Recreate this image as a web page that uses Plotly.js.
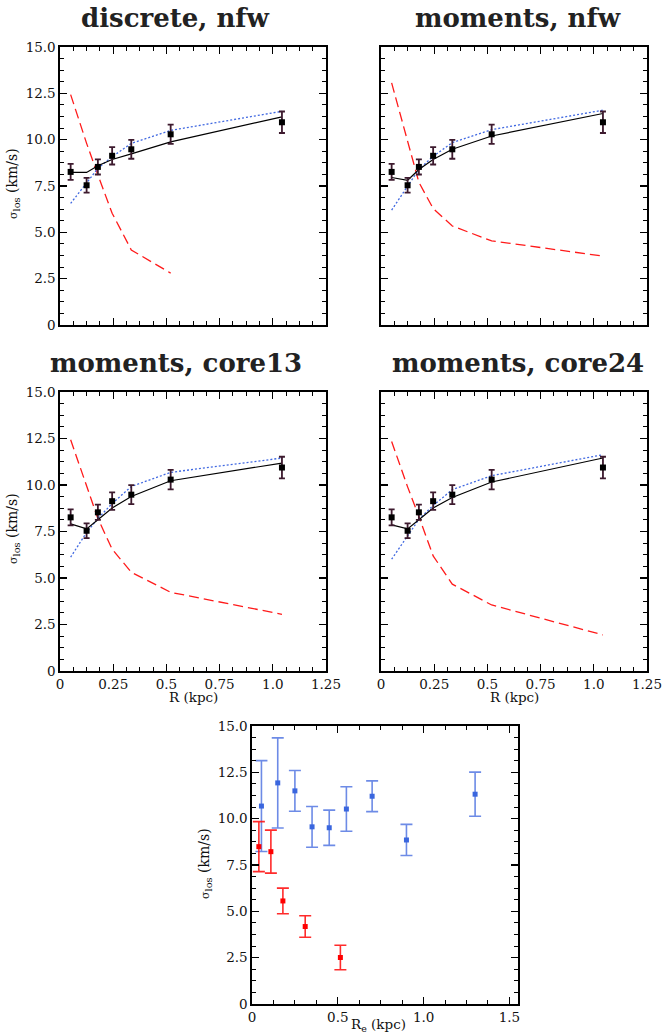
<!DOCTYPE html>
<html>
<head>
<meta charset="utf-8">
<script src="https://cdn.plot.ly/plotly-3.0.1.min.js"></script>
<style>html,body{margin:0;padding:0;background:#fff;}#chart{width:663px;height:1036px;}</style>
</head>
<body>
<div id="chart"></div>
<script>
// ---------- data ----------
const panelTitles = ["discrete, nfw", "moments, nfw", "moments, core13", "moments, core24"];

// observed binned dispersion profile (same in all four panels)
const R = [0.05, 0.125, 0.178, 0.245, 0.335, 0.52, 1.043];
const sigmaObs = [8.26, 7.54, 8.53, 9.13, 9.48, 10.29, 10.94];
const sigmaErr = [0.43, 0.40, 0.41, 0.47, 0.51, 0.52, 0.58];

// model curves (black solid = total, blue dotted, red dashed)
const black1 = [8.23, 8.23, 8.59, 8.93, 9.23, 9.88, 11.23];
const blue1  = [6.56, 7.65, 8.45, 9.08, 9.80, 10.50, 11.53];
const red1   = [12.43, 9.80, 8.10, 6.03, 4.05, 2.80];

const black2 = [7.96, 7.81, 8.39, 8.93, 9.48, 10.20, 11.41];
const blue2  = [6.20, 7.45, 8.40, 9.10, 9.84, 10.54, 11.59];
const red2   = [13.06, 9.98, 7.70, 6.29, 5.34, 4.54, 3.72];

const black3 = [7.91, 7.64, 8.13, 8.76, 9.38, 10.23, 11.18];
const blue3  = [6.12, 7.45, 8.20, 9.00, 9.92, 10.68, 11.45];
const red3   = [12.43, 9.90, 8.20, 6.55, 5.31, 4.23, 3.05];

const black4 = [7.86, 7.64, 8.13, 8.76, 9.33, 10.16, 11.45];
const blue4  = [6.01, 7.30, 8.15, 8.90, 9.75, 10.50, 11.63];
const red4   = [12.34, 9.90, 8.30, 6.19, 4.67, 3.55, 1.94];

// bottom panel: two populations
const blueRe  = [0.055, 0.15, 0.25, 0.35, 0.45, 0.55, 0.70, 0.90, 1.30];
const blueSig = [10.68, 11.93, 11.50, 9.56, 9.51, 10.52, 11.21, 8.85, 11.32];
const blueErr = [2.45, 2.43, 1.10, 1.10, 0.95, 1.20, 0.83, 0.84, 1.19];
const redRe   = [0.04, 0.11, 0.18, 0.31, 0.515];
const redSig  = [8.49, 8.22, 5.56, 4.18, 2.51];
const redErr  = [1.35, 1.16, 0.69, 0.58, 0.66];

// tick labels
const yTickVals = [0, 2.5, 5, 7.5, 10, 12.5, 15];
const yTickText = ["0", "2.5", "5.0", "7.5", "10.0", "12.5", "15.0"];
const xTickVals = [0, 0.25, 0.5, 0.75, 1.0, 1.25];
const xTickText = ["0", "0.25", "0.5", "0.75", "1.0", "1.25"];
const xTickVals5 = [0, 0.5, 1.0, 1.5];
const xTickText5 = ["0", "0.5", "1.0", "1.5"];

// ---------- layout helpers ----------
const W = 663, H = 1036;
const px = v => v / W;
const py = v => 1 - v / H;
const FONT = "DejaVu Serif, Liberation Serif, serif";

function axis(domain, range, vals, text, minorDt, showLabels) {
  return {
    domain: domain, range: range, autorange: false,
    showline: true, linecolor: "#000", linewidth: 1.6, mirror: "ticks",
    ticks: "inside", ticklen: 7, tickwidth: 1.2, tickcolor: "#000",
    tickmode: "array", tickvals: vals, ticktext: text,
    showticklabels: showLabels,
    tickfont: {family: FONT, size: 13.5, color: "#111"},
    showgrid: false, zeroline: false, fixedrange: true,
    minor: {ticks: "inside", ticklen: 4, tickwidth: 1, tickcolor: "#000",
            tickmode: "linear", tick0: 0, dtick: minorDt, showgrid: false}
  };
}

const boxes = [
  {x: [60, 326], y: [47, 325]},
  {x: [381, 647], y: [47, 325]},
  {x: [60, 326], y: [392, 671]},
  {x: [381, 647], y: [392, 671]},
  {x: [252, 518], y: [726, 1004]}
];
const dom = b => ({x: [px(b.x[0]), px(b.x[1])], y: [py(b.y[1]), py(b.y[0])]});

const layout = {
  width: W, height: H, margin: {l: 0, r: 0, t: 0, b: 0},
  paper_bgcolor: "#fff", plot_bgcolor: "#fff", showlegend: false,
  annotations: []
};

const showX = [false, false, true, true, true];
const showY = [true, false, true, false, true];
for (let i = 0; i < 5; i++) {
  const d = dom(boxes[i]);
  const sfx = i === 0 ? "" : String(i + 1);
  const isBottom = i === 4;
  layout["xaxis" + sfx] = Object.assign(
    axis(d.x, isBottom ? [0, 1.55] : [0, 1.25],
         isBottom ? xTickVals5 : xTickVals, isBottom ? xTickText5 : xTickText,
         isBottom ? 0.125 : 0.0625, showX[i]),
    {anchor: "y" + sfx});
  layout["yaxis" + sfx] = Object.assign(
    axis(d.y, [0, 15], yTickVals, yTickText, 0.625, showY[i]),
    {anchor: "x" + sfx});
}

// panel titles
const titleCenters = [[175, 18], [518, 18], [176, 363], [518, 363]];
panelTitles.forEach((t, i) => {
  layout.annotations.push({
    text: "<b>" + t + "</b>", xref: "paper", yref: "paper",
    x: px(titleCenters[i][0]), y: py(titleCenters[i][1]),
    xanchor: "center", yanchor: "middle", showarrow: false,
    font: {family: FONT, size: 26, color: "#222"}
  });
});

// axis titles
const yTitle = "<span style='font-size:11px'>σ</span><sub>los</sub> (km/s)";
[[13, 184], [13, 529], [205, 864]].forEach(p => {
  layout.annotations.push({
    text: yTitle, xref: "paper", yref: "paper", x: px(p[0]), y: py(p[1]),
    xanchor: "center", yanchor: "middle", textangle: -90, showarrow: false,
    font: {family: FONT, size: 14, color: "#111"}
  });
});
[[193, 697, "R (kpc)"], [514, 697, "R (kpc)"], [378, 1025, "R<sub>e</sub> (kpc)"]].forEach(p => {
  layout.annotations.push({
    text: p[2], xref: "paper", yref: "paper", x: px(p[0]), y: py(p[1]),
    xanchor: "center", yanchor: "middle", showarrow: false,
    font: {family: FONT, size: 13.5, color: "#111"}
  });
});

// ---------- traces ----------
const traces = [];
const models = [[black1, blue1, red1], [black2, blue2, red2], [black3, blue3, red3], [black4, blue4, red4]];
models.forEach((m, i) => {
  const xa = i === 0 ? "x" : "x" + (i + 1);
  const ya = i === 0 ? "y" : "y" + (i + 1);
  traces.push({x: R.slice(0, m[2].length), y: m[2], xaxis: xa, yaxis: ya, mode: "lines",
               line: {color: "#ff1a1a", width: 1.3, dash: "10px,5px"}, hoverinfo: "skip"});
  traces.push({x: R, y: m[1], xaxis: xa, yaxis: ya, mode: "lines",
               line: {color: "#4169e1", width: 1.3, dash: "2px,2px"}, hoverinfo: "skip"});
  traces.push({x: R, y: m[0], xaxis: xa, yaxis: ya, mode: "lines",
               line: {color: "#000", width: 1.2}, hoverinfo: "skip"});
  traces.push({x: R, y: sigmaObs, xaxis: xa, yaxis: ya, mode: "markers",
               marker: {symbol: "square", size: 6, color: "#000"},
               error_y: {type: "data", array: sigmaErr, visible: true, color: "#3d1a2e",
                         thickness: 1.8, width: 3}});
});
traces.push({x: blueRe, y: blueSig, xaxis: "x5", yaxis: "y5", mode: "markers",
             marker: {symbol: "square", size: 5, color: "#3a66de"},
             error_y: {type: "data", array: blueErr, visible: true, color: "rgba(60,100,222,0.75)",
                       thickness: 1.6, width: 6}});
traces.push({x: redRe, y: redSig, xaxis: "x5", yaxis: "y5", mode: "markers",
             marker: {symbol: "square", size: 5, color: "#ff0000"},
             error_y: {type: "data", array: redErr, visible: true, color: "rgba(255,20,20,0.9)",
                       thickness: 1.6, width: 6}});

Plotly.newPlot("chart", traces, layout, {staticPlot: true});
</script>
</body>
</html>
